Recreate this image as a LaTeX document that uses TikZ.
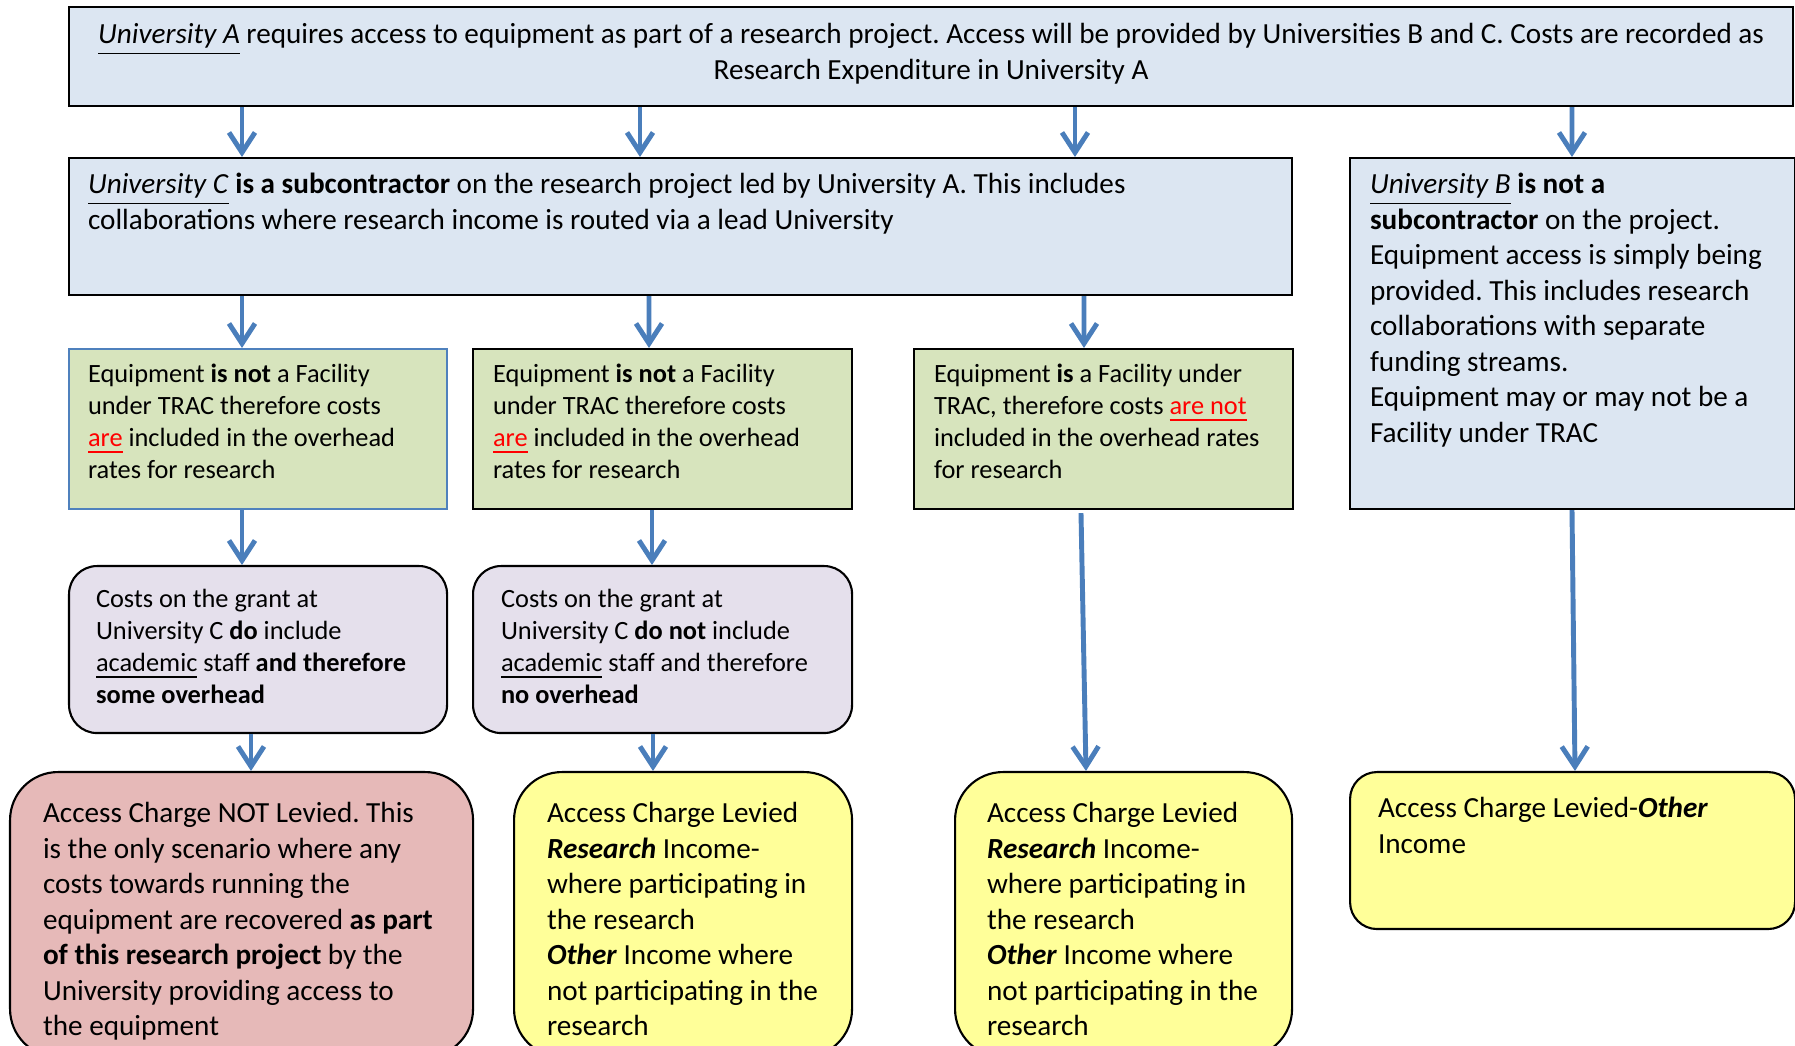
\documentclass[tikz,border=0pt]{standalone}
\usepackage{fontspec}
\setmainfont{Carlito}
\usetikzlibrary{arrows.meta}
\frenchspacing

\definecolor{boxblue}{HTML}{DCE6F2}
\definecolor{boxgreen}{HTML}{D7E4BD}
\definecolor{boxpurple}{HTML}{E5E0EC}
\definecolor{boxred}{HTML}{E6B9B8}
\definecolor{boxyellow}{HTML}{FFFF99}
\definecolor{arrowblue}{HTML}{4A7EBB}
\definecolor{edgeblue}{HTML}{4F81BD}

\newcommand{\bigtext}{\fontsize{8.3}{10.1}\selectfont}
\newcommand{\smalltext}{\fontsize{7.5}{9.1}\selectfont}
\newcommand{\boxtext}[3]{\parbox[t][#2][t]{#1}{\raggedright\strut#3}}
\newcommand{\redul}[1]{\textcolor{red}{\underline{#1}}}

\begin{document}
\begin{tikzpicture}[
    cell/.style={draw=black, line width=0.6pt, anchor=north west, inner sep=0pt, font=\bigtext},
    flow/.style={draw=arrowblue, line width=1.4pt, -{Straight Barb[length=0.2cm, width=0.26cm]}},
  ]
  \useasboundingbox (0,0) rectangle (17.95,-10.46);

  % Project
  \node[cell, fill=boxblue, inner xsep=0.1cm, inner ysep=0.12cm] (uniA) at (0.68,-0.06)
    {\parbox[t][0.75cm][t]{17.04cm}{\centering\strut\underline{\textit{University A}} requires access to equipment as part of a research project. Access will be provided by Universities B and C. Costs are recorded as\\ Research Expenditure in University A}};

  % Subcontractor or not
  \node[cell, fill=boxblue, inner xsep=0.19cm, inner ysep=0.11cm] (uniC) at (0.68,-1.57)
    {\boxtext{11.85cm}{1.15cm}{\underline{\textit{University C}} \textbf{is a subcontractor} on the research project led by University A. This includes\\ collaborations where research income is routed via a lead University}};
  \node[cell, fill=boxblue, inner xsep=0.2cm, inner ysep=0.11cm] (uniB) at (13.49,-1.57)
    {\boxtext{4.05cm}{3.29cm}{\underline{\textit{University B}} \textbf{is not a}\\ \textbf{subcontractor} on the project.\\ Equipment access is simply being\\ provided. This includes research\\ collaborations with separate\\ funding streams.\\ Equipment may or may not be a\\ Facility under TRAC}};

  % Facility under TRAC
  \node[cell, draw=edgeblue, fill=boxgreen, font=\smalltext, inner xsep=0.19cm, inner ysep=0.115cm] (green1) at (0.68,-3.48)
    {\boxtext{3.4cm}{1.37cm}{Equipment \textbf{is not} a Facility\\ under TRAC therefore costs\\ \redul{are} included in the overhead\\ rates for research}};
  \node[cell, fill=boxgreen, font=\smalltext, inner xsep=0.2cm, inner ysep=0.115cm] (green2) at (4.72,-3.48)
    {\boxtext{3.39cm}{1.37cm}{Equipment \textbf{is not} a Facility\\ under TRAC therefore costs\\ \redul{are} included in the overhead\\ rates for research}};
  \node[cell, fill=boxgreen, font=\smalltext, inner xsep=0.2cm, inner ysep=0.115cm] (green3) at (9.13,-3.48)
    {\boxtext{3.39cm}{1.37cm}{Equipment \textbf{is} a Facility under\\ TRAC, therefore costs \redul{are not}\\ included in the overhead rates\\ for research}};

  % Grant costs
  \node[cell, fill=boxpurple, rounded corners=0.28cm, font=\smalltext, inner xsep=0.27cm, inner ysep=0.195cm] (costs1) at (0.68,-5.65)
    {\boxtext{3.24cm}{1.28cm}{Costs on the grant at\\ University C \textbf{do} include\\ \underline{academic} staff \textbf{and therefore}\\ \textbf{some overhead}}};
  \node[cell, fill=boxpurple, rounded corners=0.28cm, font=\smalltext, inner xsep=0.28cm, inner ysep=0.195cm] (costs2) at (4.72,-5.65)
    {\boxtext{3.23cm}{1.28cm}{Costs on the grant at\\ University C \textbf{do not} include\\ \underline{academic} staff and therefore\\ \textbf{no overhead}}};

  % Access charge
  \node[cell, fill=boxred, rounded corners=0.48cm, inner xsep=0.33cm, inner ysep=0.26cm] (charge1) at (0.09,-7.71)
    {\boxtext{3.97cm}{2.33cm}{Access Charge NOT Levied. This\\ is the only scenario where any\\ costs towards running the\\ equipment are recovered \textbf{as part}\\ \textbf{of this research project} by the\\ University providing access to\\ the equipment}};
  \node[cell, fill=boxyellow, rounded corners=0.48cm, inner xsep=0.33cm, inner ysep=0.26cm] (charge2) at (5.13,-7.71)
    {\boxtext{2.72cm}{2.33cm}{Access Charge Levied\\ \textbf{\textit{Research}} Income-\\ where participating in\\ the research\\ \textbf{\textit{Other}} Income where\\ not participating in the\\ research}};
  \node[cell, fill=boxyellow, rounded corners=0.48cm, inner xsep=0.32cm, inner ysep=0.26cm] (charge3) at (9.54,-7.71)
    {\boxtext{2.73cm}{2.33cm}{Access Charge Levied\\ \textbf{\textit{Research}} Income-\\ where participating in\\ the research\\ \textbf{\textit{Other}} Income where\\ not participating in the\\ research}};
  \node[cell, fill=boxyellow, rounded corners=0.27cm, inner xsep=0.28cm, inner ysep=0.21cm] (charge4) at (13.49,-7.71)
    {\boxtext{3.89cm}{1.15cm}{Access Charge Levied-\textbf{\textit{Other}}\\ Income}};

  % Arrows
  \draw[flow] ([xshift=1.74cm]uniA.south west) -- ([xshift=1.74cm]uniC.north west);
  \draw[flow] ([xshift=5.72cm]uniA.south west) -- ([xshift=5.72cm]uniC.north west);
  \draw[flow] ([xshift=10.07cm]uniA.south west) -- ([xshift=10.07cm]uniC.north west);
  \draw[flow] ([xshift=15.04cm]uniA.south west) -- ([xshift=2.23cm]uniB.north west);
  \draw[flow] ([xshift=1.74cm]uniC.south west) -- ([xshift=1.74cm]green1.north west);
  \draw[flow] ([xshift=5.81cm]uniC.south west) -- ([xshift=1.77cm]green2.north west);
  \draw[flow] ([xshift=10.16cm]uniC.south west) -- ([xshift=1.71cm]green3.north west);
  \draw[flow] ([xshift=1.74cm]green1.south west) -- ([xshift=1.74cm]costs1.north west);
  \draw[flow] ([xshift=1.8cm]green2.south west) -- ([xshift=1.8cm]costs2.north west);
  \draw[flow] ([xshift=1.83cm]costs1.south west) -- ([xshift=2.42cm]charge1.north west);
  \draw[flow] ([xshift=1.81cm]costs2.south west) -- ([xshift=1.4cm]charge2.north west);
  \draw[flow] ([xshift=1.68cm, yshift=-0.03cm]green3.south west) -- ([xshift=1.32cm]charge3.north west);
  \draw[flow] ([xshift=2.23cm]uniB.south west) -- ([xshift=2.26cm]charge4.north west);
\end{tikzpicture}
\end{document}
